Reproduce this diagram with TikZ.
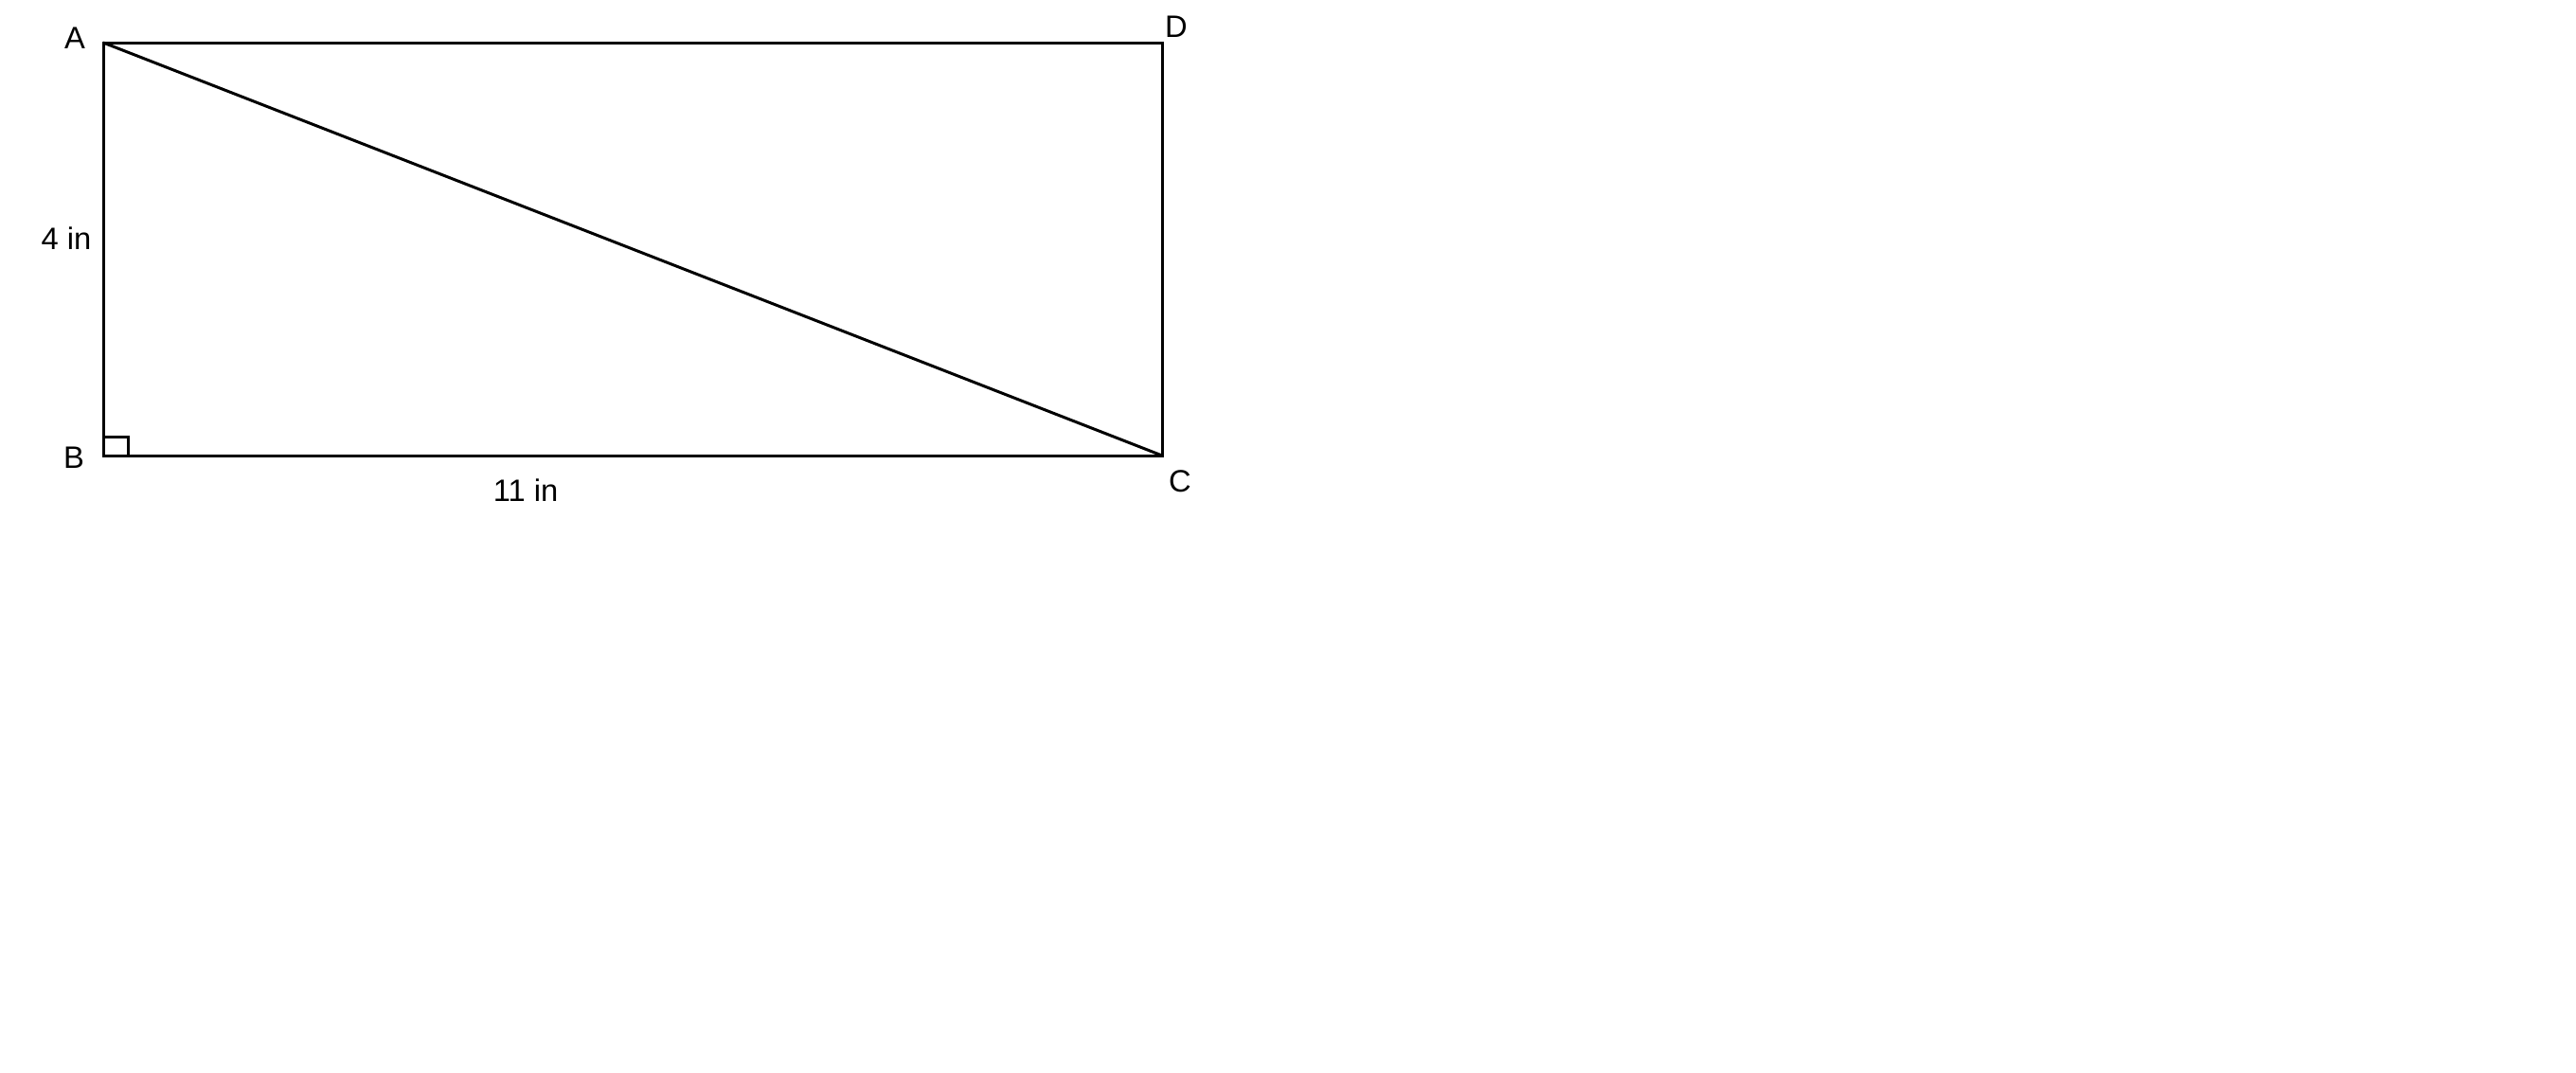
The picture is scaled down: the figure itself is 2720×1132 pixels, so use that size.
\documentclass[tikz,border=0pt]{standalone}
\usepackage{fontspec}
\setmainfont{Liberation Sans}
\usetikzlibrary{positioning}

\tikzset{vlabel/.style={inner sep=0pt,font=\fontsize{9.3pt}{11pt}\selectfont}}

\begin{document}
\begin{tikzpicture}[x=0.01cm,y=-0.01cm,line width=0.03cm]
      \useasboundingbox (0,0) rectangle (2720,1132);
      % corners of the rectangle
      \coordinate (A) at (109,45);
      \coordinate (D) at (1227,45);
      \coordinate (C) at (1227,481);
      \coordinate (B) at (109,481);
      \draw (A) -- (D) -- (C) -- (B) -- cycle;
      \draw (A) -- (C);
      \draw (B) rectangle ++(26,-20);
      % labels
      \node[vlabel] (labA) at (79,40) {A};
      \node[vlabel] (labD) at (1242,28) {D};
      \node[vlabel] (labB) at (78,483) {B};
      \node[vlabel] (labC) at (1246,508) {C};
      \node[vlabel] (side) at (70,252) {4 in};
      \node[vlabel] (base) at (555,518) {11 in};
\end{tikzpicture}
\end{document}
